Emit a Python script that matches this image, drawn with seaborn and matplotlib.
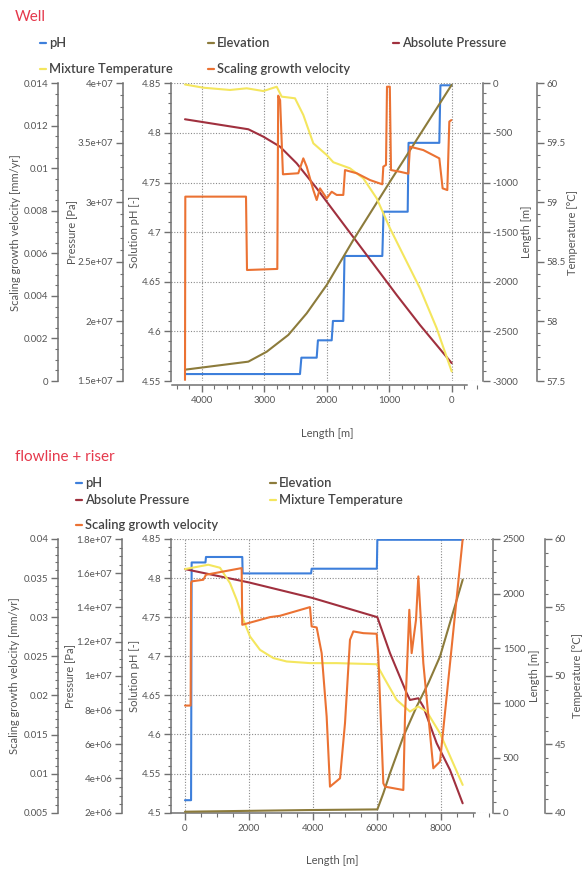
import matplotlib
matplotlib.use('Agg')
import matplotlib.pyplot as plt
import seaborn as sns
from matplotlib.ticker import MultipleLocator, FuncFormatter
from matplotlib.lines import Line2D

# ---------------- DATA : Well ----------------
well_ph_len = [4267, 2427, 2405, 2160, 2140, 1920, 1900, 1734, 1715, 1110, 1090, 704, 690, 198, 180, 0]
well_ph = [4.557, 4.557, 4.5735, 4.5735, 4.591, 4.591, 4.6105, 4.6105, 4.676, 4.676,
           4.7206, 4.7206, 4.790, 4.790, 4.848, 4.848]

well_elev_len = [4267, 3254, 2960, 2614, 2320, 2000, 1574, 987, 0]
well_elev = [-2886, -2805, -2705, -2536, -2318, -2033, -1579, -991, -15]

well_pres_len = [4267, 3254, 3014, 2747, 2480, 2160, 1840, 1520, 1200, 880, 507, 0]
well_pres = [3.698e7, 3.614e7, 3.552e7, 3.468e7, 3.328e7, 3.118e7, 2.894e7, 2.670e7,
             2.446e7, 2.222e7, 1.970e7, 1.650e7]

well_temp_len = [4267, 3974, 3547, 3280, 3014, 2800, 2720, 2507, 2374, 2214, 2000, 1894,
                 1627, 1414, 1200, 987, 774, 507, 240, 0]
well_temp = [59.99, 59.963, 59.944, 59.958, 59.935, 59.971, 59.888, 59.874, 59.734, 59.496,
             59.398, 59.337, 59.286, 59.202, 59.034, 58.782, 58.558, 58.278, 57.943, 57.58]

well_scal_len = [4267, 4262, 3291, 3275, 2790, 2776, 2745, 2700, 2454, 2374, 2320, 2214,
                 2160, 2107, 2000, 1920, 1840, 1734, 1707, 1520, 1307, 1110, 1094, 1051,
                 1035, 990, 971, 827, 694, 667, 454, 198, 145, 70, 38, 5]
well_scal = [0.00005, 0.00867, 0.00867, 0.00522, 0.00527, 0.01342, 0.01320, 0.00972,
             0.00977, 0.01047, 0.01008, 0.00898, 0.00851, 0.00906, 0.00859, 0.00890,
             0.00875, 0.00875, 0.00992, 0.00977, 0.00945, 0.00925, 0.01008, 0.01016,
             0.01384, 0.01384, 0.00992, 0.00984, 0.00975, 0.01102, 0.01086, 0.01047,
             0.00906, 0.00898, 0.01220, 0.01227]

# ---------------- DATA : flowline + riser ----------------
fl_ph_len = [0, 190, 208, 640, 656, 1790, 1802, 3940, 3958, 5995, 6011, 8678]
fl_ph = [4.516, 4.516, 4.820, 4.820, 4.827, 4.827, 4.806, 4.806, 4.812, 4.812, 4.849, 4.849]

fl_elev_len = [0, 1500, 3800, 6011, 6198, 6406, 6823, 7240, 7604, 7969, 8678]
fl_elev = [9, 15, 24, 30, 177, 360, 695, 970, 1183, 1427, 2128]

fl_pres_len = [0, 2000, 3990, 6011, 6406, 6927, 7031, 7292, 7448, 7865, 8281, 8677]
fl_pres = [1.624e7, 1.546e7, 1.455e7, 1.343e7, 1.133e7, 8.99e6, 8.59e6, 8.69e6, 8.2e6,
           6.06e6, 4.5e6, 2.55e6]

fl_temp_len = [0, 729, 1094, 1406, 1615, 1823, 2031, 2344, 2760, 3177, 3906, 4740, 5990,
               6198, 6615, 7031, 7292, 7552, 7969, 8678]
fl_temp = [57.8, 58.12, 57.9, 56.78, 55.56, 54.1, 52.88, 51.9, 51.3, 51.05, 50.93, 50.93,
           50.85, 49.95, 48.24, 47.39, 47.76, 47.4, 45.8, 42.03]

fl_scal_len = [0, 177, 190, 208, 573, 656, 1771, 1790, 2656, 2969, 3906, 3958, 4115, 4271,
               4427, 4531, 4844, 5000, 5156, 5260, 5573, 5990, 6042, 6198, 6250, 6823, 6875,
               7010, 7083, 7219, 7292, 7448, 7760, 7969, 8678]
fl_scal = [0.0187, 0.0187, 0.03437, 0.03458, 0.03479, 0.03543, 0.03628, 0.02903, 0.03001,
           0.03018, 0.03129, 0.02882, 0.02869, 0.0254, 0.01729, 0.00833, 0.0094, 0.01644,
           0.02711, 0.02818, 0.02796, 0.02788, 0.02497, 0.00876, 0.00833, 0.0079, 0.01729,
           0.03095, 0.0254, 0.02967, 0.03522, 0.02412, 0.01068, 0.01153, 0.04]

legend_labels = ["pH", "Elevation", "Absolute Pressure", "Mixture Temperature",
                 "Scaling growth velocity"]

# ---------------- STYLE ----------------
sns.set_theme(style='ticks')
plt.rcParams['font.family'] = ['Lato', 'DejaVu Sans']

C_PH = '#3d7fdb'
C_EL = '#8c7b3b'
C_PR = '#a0303e'
C_TE = '#f4e65e'
C_SC = '#eb7233'
GRAY = '#707070'
TXT = '#555555'
RED = '#e5394c'

W, H = 582, 872
fig = plt.figure(figsize=(W / 100, H / 100), dpi=100)


def rect(l, t, r, b):
    return [l / W, 1 - b / H, (r - l) / W, (b - t) / H]


def fmt(v, pos):
    return '%g' % round(v, 10)


def setup_y(ax, side, frac, lim, major, minor, label, lab_x):
    ax.set_ylim(*lim)
    for s in ['top', 'bottom', 'left', 'right']:
        ax.spines[s].set_visible(False)
    ax.spines[side].set_visible(True)
    ax.spines[side].set_position(('axes', frac))
    ax.spines[side].set_color(GRAY)
    ax.spines[side].set_linewidth(1.1)
    if side == 'left':
        ax.yaxis.set_ticks_position('left')
        ax.yaxis.set_label_position('left')
    else:
        ax.yaxis.set_ticks_position('right')
        ax.yaxis.set_label_position('right')
    ax.yaxis.set_major_locator(MultipleLocator(major))
    ax.yaxis.set_minor_locator(MultipleLocator(minor))
    ax.yaxis.set_major_formatter(FuncFormatter(fmt))
    ax.tick_params(axis='y', which='major', direction='out', length=5, width=1,
                   color=GRAY, labelsize=7, labelcolor=TXT, pad=2)
    ax.tick_params(axis='y', which='minor', direction='out', length=2.5, width=0.8,
                   color=GRAY)
    ax.set_ylabel(label, fontsize=8, color=TXT)
    ax.yaxis.set_label_coords(lab_x, 0.5)
    ax.yaxis.label.set_verticalalignment('center')


def line(ax, x, y, c, lw=1.5):
    sns.lineplot(x=x, y=y, ax=ax, color=c, linewidth=lw, sort=False, estimator=None,
                 legend=False)
    ax.set_xlabel('')


def panel(r, xlim, xbounds, xmaj, xmin, series, cfg, bottom_off):
    host = fig.add_axes(rect(*r))
    host.patch.set_alpha(0)
    width = r[2] - r[0]
    fr = lambda px: (px - r[0]) / width
    setup_y(host, 'left', 0.0, cfg['ph'][0], cfg['ph'][1], cfg['ph'][2],
            'Solution pH [-]', fr(135))
    host.spines['bottom'].set_visible(True)
    host.spines['bottom'].set_color(GRAY)
    host.spines['bottom'].set_linewidth(1.1)
    host.spines['bottom'].set_bounds(*xbounds)
    host.spines['bottom'].set_position(('outward', bottom_off))
    host.set_xlim(*xlim)
    host.xaxis.set_major_locator(MultipleLocator(xmaj))
    host.xaxis.set_minor_locator(MultipleLocator(xmin))
    host.xaxis.set_major_formatter(FuncFormatter(fmt))
    host.tick_params(axis='x', which='major', direction='out', length=5, width=1,
                     color=GRAY, labelsize=7, labelcolor=TXT, pad=3)
    host.tick_params(axis='x', which='minor', direction='out', length=3, width=0.8,
                     color=GRAY)
    host.grid(True, which='major', linestyle=(0, (1, 1.5)), color='#8a8a8a', linewidth=0.8)
    line(host, series['ph'][0], series['ph'][1], C_PH)
    host.set_xlabel('Length [m]', fontsize=8, color=TXT, labelpad=16)
    host.set_xlim(*xlim)
    host.set_ylim(*cfg['ph'][0])

    tw_p = host.twinx()
    setup_y(tw_p, 'left', fr(cfg['pres_px']), *cfg['pres'], 'Pressure [Pa]', fr(cfg['pres_lab']))
    tw_e = host.twinx()
    setup_y(tw_e, 'right', fr(cfg['len_px']), *cfg['len'], 'Length [m]', fr(cfg['len_lab']))
    tw_t = host.twinx()
    setup_y(tw_t, 'right', fr(cfg['temp_px']), *cfg['temp'], 'Temperature [°C]', fr(cfg['temp_lab']))
    tw_s = host.twinx()
    setup_y(tw_s, 'left', fr(58), *cfg['scal'], 'Scaling growth velocity [mm/yr]', fr(15))

    line(tw_e, series['elev'][0], series['elev'][1], C_EL)
    line(tw_p, series['pres'][0], series['pres'][1], C_PR)
    line(tw_t, series['temp'][0], series['temp'][1], C_TE)
    line(tw_s, series['scal'][0], series['scal'][1], C_SC)
    for a, lim in [(tw_p, cfg['pres'][0]), (tw_e, cfg['len'][0]), (tw_t, cfg['temp'][0]),
                   (tw_s, cfg['scal'][0])]:
        a.set_ylim(*lim)
        a.set_xlim(*xlim)
        a.set_xlabel('')
    return host


# Top panel (Well)
panel((171, 83.3, 483, 381), (4491, -501), (4480, -240), 1000, 200,
      {'ph': (well_ph_len, well_ph), 'elev': (well_elev_len, well_elev),
       'pres': (well_pres_len, well_pres), 'temp': (well_temp_len, well_temp),
       'scal': (well_scal_len, well_scal)},
      {'ph': ((4.55, 4.85), 0.05, 0.01),
       'pres': ((1.5e7, 4e7), 5e6, 1e6), 'pres_px': 123, 'pres_lab': 73,
       'len': ((-3000, 0), 500, 100), 'len_px': 483, 'len_lab': 526,
       'temp': ((57.5, 60), 0.5, 0.1), 'temp_px': 537, 'temp_lab': 573,
       'scal': ((0, 0.014), 0.002, 0.0005)}, 3)

# Bottom panel (flowline + riser)
panel((171, 539, 493, 812.7), (-437, 9625), (-437, 9050), 2000, 500,
      {'ph': (fl_ph_len, fl_ph), 'elev': (fl_elev_len, fl_elev),
       'pres': (fl_pres_len, fl_pres), 'temp': (fl_temp_len, fl_temp),
       'scal': (fl_scal_len, fl_scal)},
      {'ph': ((4.5, 4.85), 0.05, 0.01),
       'pres': ((2e6, 1.8e7), 2e6, 5e5), 'pres_px': 122, 'pres_lab': 71,
       'len': ((0, 2500), 500, 100), 'len_px': 493, 'len_lab': 535,
       'temp': ((40, 60), 5, 1), 'temp_px': 545, 'temp_lab': 577,
       'scal': ((0.005, 0.04), 0.005, 0.001)}, 0)

# Titles
fig.text(15 / W, 1 - 17 / H, 'Well', color=RED, fontsize=11, va='center', ha='left')
fig.text(15 / W, 1 - 457 / H, 'flowline + riser', color=RED, fontsize=11, va='center',
         ha='left')

# Legends
colors = [C_PH, C_EL, C_PR, C_TE, C_SC]


def legend_item(x, y, label, c):
    fig.add_artist(Line2D([x / W, (x + 6) / W], [1 - y / H, 1 - y / H], color=c,
                          linewidth=1.6, transform=fig.transFigure))
    fig.text((x + 9) / W, 1 - y / H, label, color='#444444', fontsize=9.3,
             fontweight='semibold', va='center', ha='left')


top_pos = [(40, 43), (208, 43), (393, 43), (40, 69), (208, 69)]
bot_pos = [(76, 483), (270, 483), (76, 500), (270, 500), (76, 525)]
for lab, c, p in zip(legend_labels, colors, top_pos):
    legend_item(p[0], p[1], lab, c)
for lab, c, p in zip(legend_labels, colors, bot_pos):
    legend_item(p[0], p[1], lab, c)

fig.savefig('out.png', dpi=100)
